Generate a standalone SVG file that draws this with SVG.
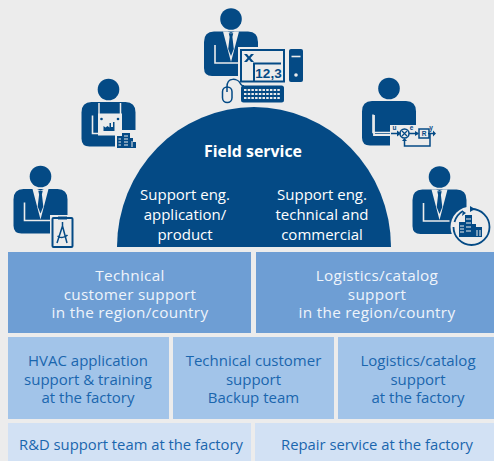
<svg xmlns="http://www.w3.org/2000/svg" width="494" height="461" viewBox="0 0 494 461">
<style>
.d{fill:#044a85}
.g{fill:#ececec}
.ln{fill:none;stroke:#ececec;stroke-width:1.6}
.ld{fill:none;stroke:#044a85;stroke-width:1.5}
.r1{fill:#6e9ed4}
.r2{fill:#a2c4e9}
.r3{fill:#d2e1f4}
text{font-family:"Open Sans","Noto Sans","Liberation Sans",sans-serif;font-size:15px;text-anchor:middle}
.w{fill:#fff}
.l{fill:#eef4fb;font-size:15.300px;letter-spacing:.3px}
.b{fill:#1a66ae}
.b2{fill:#1a66ae;font-size:14.800px}
.t{font-family:"Liberation Sans",sans-serif;font-weight:700;fill:#044a85;font-size:6.500px}
</style>
<defs>
<g id="body">
<circle class="d" cx="0" cy="0" r="10.8"/>
<path class="d" d="M-17,12.500H17Q27,12.500 27,23V49Q27,57 19,57H-19Q-27,57 -27,49V23Q-27,12.500 -17,12.500Z"/>
<path class="ln" d="M-16,26V44H10"/>
</g>
<g id="suit">
<use href="#body"/>
<path class="g" d="M-8,12.500L0,43L8,12.500L3.500,12.500L0,14L-3.500,12.500Z"/>
<path class="d" d="M-2.200,14.200H2.200L1.400,18L2.800,30L0,37L-2.800,30L-1.400,18Z"/>
</g>
</defs>
<rect class="g" width="494" height="461"/>

<g id="connectors"></g>

<g id="field-service">
<path class="d" d="M117,247A137,140 0 0 1 391,247Z"/>
<text class="w" x="253" y="157" style="font-weight:700;font-size:15.900px">Field service</text>
<text class="w" x="185" y="200">Support eng.</text>
<text class="w" x="185" y="220">application/</text>
<text class="w" x="185" y="240">product</text>
<text class="w" x="322" y="200">Support eng.</text>
<text class="w" x="322" y="220">technical and</text>
<text class="w" x="322" y="240">commercial</text>
</g>

<g id="person-top">
<use href="#suit" x="231" y="19"/>
<rect x="238" y="47" width="49" height="37" class="g"/>
<rect x="241" y="50" width="43" height="31.500" fill="none" stroke="#044a85" stroke-width="2"/>
<path class="ld" d="M254,81V63.500H281" style="stroke-width:2"/>
<path class="d" d="M244,54h3l2,2.500 2,-2.500h3l-3.500,4 3.500,4h-3l-2,-2.500 -2,2.500h-3l3.500,-4z"/>
<text x="268.500" y="78" style="font-size:13.500px;fill:#044a85;font-family:'Liberation Sans',sans-serif;font-weight:700">12,3</text>
<rect class="d" x="289" y="49" width="14" height="33" rx="2"/>
<path class="ln" d="M291.500,56.500H300.500"/>
<circle class="g" cx="296" cy="75" r="1.800"/>
<rect x="222.500" y="87" width="9.500" height="15.500" rx="4.700" fill="none" stroke="#044a85" stroke-width="1.500"/>
<path class="ld" d="M227,87V92M227,87C227,76 238,79 240,83C241,85 243,86 244,86"/>
<rect class="d" x="241" y="85.500" width="43" height="17" rx="2.500"/>
<path class="ln" stroke-dasharray="2.500 1.200" d="M244,90H281M244,94H281M244,98H281" style="stroke-width:2.200"/>
</g>

<g id="person-apron">
<use href="#body" x="108.500" y="89.500"/>
<rect class="g" x="98" y="113.500" width="24" height="22"/>
<path class="ln" d="M99,103V114M120.500,103V114" style="stroke-width:1.500"/>
<circle class="d" cx="101.500" cy="119" r="1.300"/>
<circle class="d" cx="118" cy="119" r="1.300"/>
<path class="d" d="M103.500,131V126l2,1.500 2,-1.500 2,1.500V123l1.500,0V127h2V122h1.500V131Z"/>
<rect class="g" x="115" y="130" width="23" height="19"/>
<path class="d" d="M117,148V136H122V133H130V138H133V142H136V148Z"/>
<path class="ln" d="M118.500,139H121M118.500,142H121M118.500,145H121M124,136H128M124,139H128M124,142H128M124,145H128M132,141V147" style="stroke-width:1"/>
</g>

<g id="person-left">
<use href="#suit" x="40.500" y="176.500"/>
<rect class="g" x="50" y="215" width="25" height="34"/>
<rect x="52.500" y="218" width="20" height="29" rx="1" fill="#ececec" stroke="#044a85" stroke-width="2"/>
<rect class="d" x="58" y="216.500" width="9" height="3"/>
<path class="ld" d="M62.500,222V226M62.500,226L57,243M62.500,226L67,243M57.500,236C60,238 65,238 67.500,235"/>
</g>

<g id="person-right-top">
<use href="#body" x="389" y="88.500"/>
<rect class="g" x="390" y="125" width="47" height="24"/>
<path class="ln" d="M374,115V135H390" style="stroke-width:1.800"/>
<path class="ld" d="M391,133.500H398"/>
<path class="d" d="M397,130.500L401,133.500L397,136.500Z"/>
<circle cx="404.500" cy="133.500" r="4.500" fill="none" stroke="#044a85" stroke-width="1.500"/>
<path class="ld" d="M402,131L407,136M407,131L402,136" style="stroke-width:1.200"/>
<path class="ld" d="M409,133.500H418"/>
<path class="d" d="M415,131L419,133.500L415,136Z"/>
<rect x="419" y="129" width="10" height="9" fill="none" stroke="#044a85" stroke-width="1.500"/>
<path class="ld" d="M428,133.500H434M430,133.500V146H404.500V140"/>
<path class="d" d="M433,130.500L436,133.500L433,136.500ZM402,141L404.500,138L407,141Z"/>
<text class="t" x="394.500" y="130">u</text>
<text class="t" x="411.500" y="130">e</text>
<text class="t" x="424" y="136">R</text>
<text class="t" x="431" y="130">y</text>
</g>

<g id="person-right">
<use href="#suit" x="439.500" y="177"/>
<circle class="g" cx="471" cy="227" r="20.500"/>
<path class="ld" d="M471.500,209A18,18 0 1 1 453.500,227" style="stroke-width:1.800"/>
<path class="ld" d="M454.500,222A18,18 0 0 1 463,211" style="stroke-width:1.800"/>
<path class="d" d="M470,206V212L475,209ZM463,211l-1,5 4,-3z"/>
<path class="d" d="M459,237V222H465V215H472V224H476V227H482V237Z"/>
<path class="ln" d="M460,226H464M460,229H464M460,232H464M466,219H471M466,223H471M466,227H471M466,231H471M477,230V236M480,230V236" style="stroke-width:1"/>
</g>

<g id="technical-region">
<rect class="r1" x="8" y="252" width="243" height="81"/>
<text class="l"><tspan x="130" y="281">Technical</tspan><tspan x="130" y="299.500">customer support</tspan><tspan x="130" y="318">in the region/country</tspan></text>
</g>
<g id="logistics-region">
<rect class="r1" x="256" y="252" width="238" height="81"/>
<text class="l"><tspan x="377" y="281">Logistics/catalog</tspan><tspan x="377" y="299.500">support</tspan><tspan x="377" y="318">in the region/country</tspan></text>
</g>
<g id="hvac">
<rect class="r2" x="8" y="337" width="161" height="82"/>
<text class="b"><tspan x="88" y="366">HVAC application</tspan><tspan x="88" y="384.500">support &amp; training</tspan><tspan x="88" y="403">at the factory</tspan></text>
</g>
<g id="backup">
<rect class="r2" x="173" y="337" width="161" height="82"/>
<text class="b"><tspan x="253.500" y="366">Technical customer</tspan><tspan x="253.500" y="384.500">support</tspan><tspan x="253.500" y="403">Backup team</tspan></text>
</g>
<g id="logistics-factory">
<rect class="r2" x="338" y="337" width="156" height="82"/>
<text class="b"><tspan x="418" y="366">Logistics/catalog</tspan><tspan x="418" y="384.500">support</tspan><tspan x="418" y="403">at the factory</tspan></text>
</g>
<g id="rd">
<rect class="r3" x="8" y="423" width="243" height="38"/>
<text class="b2" x="131" y="450">R&amp;D support team at the factory</text>
</g>
<g id="repair">
<rect class="r3" x="255" y="423" width="239" height="38"/>
<text class="b2" x="377" y="450">Repair service at the factory</text>
</g>
</svg>
